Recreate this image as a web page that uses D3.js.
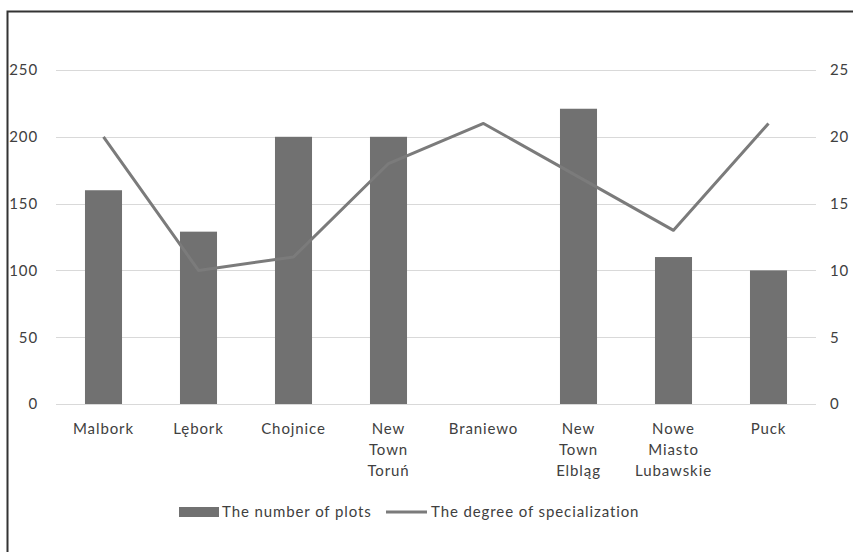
<!DOCTYPE html>
<html>
<head>
<meta charset="utf-8">
<script src="https://cdn.jsdelivr.net/npm/d3@7/dist/d3.min.js"></script>
<style>
  html, body { margin: 0; padding: 0; background: #fff; }
  svg { display: block; }
  text { font-family: Lato, "Open Sans", sans-serif; fill: #404040; font-size: 15px; letter-spacing: 0.9px; }
</style>
</head>
<body>
<svg id="chart" width="853" height="552"></svg>
<script>
// Towns and their values
const towns = [
  ["Malbork"],
  ["Lębork"],
  ["Chojnice"],
  ["New", "Town", "Toruń"],
  ["Braniewo"],
  ["New", "Town", "Elbląg"],
  ["Nowe", "Miasto", "Lubawskie"],
  ["Puck"]
];
const plots = [160, 129, 200, 200, 0, 221, 110, 100];
const specialization = [20, 10, 11, 18, 21, 17, 13, 21];
const leftTicks = [0, 50, 100, 150, 200, 250];
const rightTicks = [0, 5, 10, 15, 20, 25];
const seriesNames = ["The number of plots", "The degree of specialization"];

const svg = d3.select("#chart");
const W = 853, H = 552;
const plot = { left: 56, right: 816, top: 70, bottom: 404 };

// frame on the left and top edges
svg.append("path")
  .attr("d", `M7.5,${H} V11.5 H${W}`)
  .attr("fill", "none")
  .attr("stroke", "#333")
  .attr("stroke-width", 2);

const x = d3.scaleBand()
  .domain(d3.range(towns.length))
  .range([plot.left, plot.right])
  .paddingInner(0.61)
  .paddingOuter(0.305);

const yL = d3.scaleLinear().domain([0, 250]).range([plot.bottom, plot.top]);
const yR = d3.scaleLinear().domain([0, 25]).range([plot.bottom, plot.top]);

// horizontal gridlines
svg.append("g")
  .selectAll("line")
  .data(leftTicks)
  .join("line")
  .attr("x1", plot.left).attr("x2", plot.right)
  .attr("y1", d => Math.round(yL(d)) + 0.5)
  .attr("y2", d => Math.round(yL(d)) + 0.5)
  .attr("stroke", "#d9d9d9")
  .attr("stroke-width", 1.2);

// left axis
const axL = svg.append("g")
  .attr("transform", `translate(${plot.left},0)`)
  .call(d3.axisLeft(yL).tickValues(leftTicks).tickSize(0).tickPadding(18));
axL.select(".domain").remove();
axL.selectAll("text").attr("fill", "#404040")
  .style("font-size", "15px").style("font-family", "Lato, 'Open Sans', sans-serif");

// right axis
const axR = svg.append("g")
  .attr("transform", `translate(${plot.right},0)`)
  .call(d3.axisRight(yR).tickValues(rightTicks).tickSize(0).tickPadding(14));
axR.select(".domain").remove();
axR.selectAll("text").attr("fill", "#404040")
  .style("font-size", "15px").style("font-family", "Lato, 'Open Sans', sans-serif");

// bars
svg.append("g")
  .selectAll("rect")
  .data(plots)
  .join("rect")
  .attr("x", (d, i) => x(i))
  .attr("width", x.bandwidth())
  .attr("y", d => yL(d))
  .attr("height", d => yL(0) - yL(d))
  .attr("fill", "#717171");

// specialization line
const line = d3.line()
  .x((d, i) => x(i) + x.bandwidth() / 2)
  .y(d => yR(d));
svg.append("path")
  .datum(specialization)
  .attr("d", line)
  .attr("fill", "none")
  .attr("stroke", "#7b7b7b")
  .attr("stroke-width", 3)
  .attr("stroke-linejoin", "round");

// category labels
const xLab = svg.append("g");
towns.forEach((lines, i) => {
  const t = xLab.append("text")
    .attr("text-anchor", "middle");
  lines.forEach((s, j) => {
    t.append("tspan")
      .attr("x", x(i) + x.bandwidth() / 2)
      .attr("y", 434 + j * 21)
      .text(s);
  });
});

// legend
const lg = svg.append("g");
lg.append("rect")
  .attr("x", 179).attr("y", 507).attr("width", 40).attr("height", 10)
  .attr("fill", "#717171");
lg.append("text")
  .attr("x", 222).attr("y", 517)
  .text(seriesNames[0]);
lg.append("line")
  .attr("x1", 386).attr("x2", 427).attr("y1", 512).attr("y2", 512)
  .attr("stroke", "#7b7b7b").attr("stroke-width", 3);
lg.append("text")
  .attr("x", 431).attr("y", 517)
  .text(seriesNames[1]);
</script>
</body>
</html>
